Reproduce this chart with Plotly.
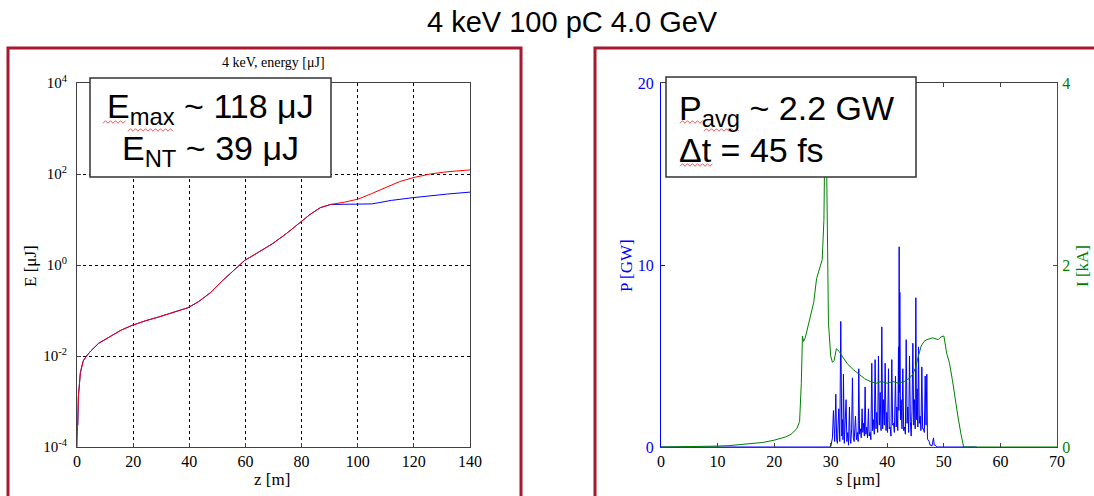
import plotly.graph_objects as go

# ---------------- data ----------------
# Left panel: FEL pulse energy along undulator (log scale)
z_red = [0, 0.24, 0.5, 1.2, 2.2, 3.4, 4.9, 7.7, 12, 15.7, 19.6, 24.2, 29.1, 34, 39.5, 43.2, 47.5,
         51.8, 56.1, 59.7, 64.6, 69.5, 74.4, 79.3, 83, 86.7, 90.3, 95.2, 100.1, 105, 109.9, 114.8,
         119.7, 125.8, 131.9, 140]
E_red = [1.0e-4, 4.0e-4, 1.3e-3, 4.3e-3, 7.8e-3, 1.0e-2, 1.29e-2, 1.9e-2, 2.75e-2, 3.7e-2, 4.7e-2,
         5.9e-2, 7.2e-2, 8.9e-2, 0.115, 0.155, 0.245, 0.45, 0.81, 1.26, 1.9, 2.9, 4.8, 8.5, 12.9,
         18.2, 21.4, 24.0, 28.0, 37.2, 50.1, 67.6, 83.0, 100.0, 112.0, 123.0]

z_blue = [0.3, 0.5, 1.2, 2.2, 3.4, 4.9, 7.7, 12, 15.7, 19.6, 24.2, 29.1, 34, 39.5, 43.2, 47.5,
          51.8, 56.1, 59.7, 64.6, 69.5, 74.4, 79.3, 83, 86.7, 90.3, 95.2, 100.1, 105, 107.5, 112,
          119.7, 125, 132, 140]
E_blue = [3.0e-4, 1.3e-3, 4.3e-3, 7.8e-3, 1.0e-2, 1.29e-2, 1.9e-2, 2.75e-2, 3.7e-2, 4.7e-2,
          5.9e-2, 7.2e-2, 8.9e-2, 0.115, 0.155, 0.245, 0.45, 0.81, 1.26, 1.9, 2.9, 4.8, 8.5, 12.9,
          18.2, 21.4, 21.6, 21.8, 22.0, 23.4, 26.3, 30.2, 33.1, 36.3, 40.0]

# Right panel: power profile P [GW] and current I [kA] vs s [um]
s_P = [0, 30.0, 30.3, 30.48, 30.7, 30.9, 31.05, 31.19, 31.3, 31.43, 31.6, 31.78, 31.95, 32.08,
       32.17, 32.25, 32.4, 32.55, 32.72, 32.85, 33.02, 33.15, 33.31, 33.45, 33.55, 33.7, 33.84,
       34.0, 34.14, 34.38, 34.55, 34.73, 34.85, 34.96, 35.1, 35.26, 35.4, 35.55, 35.68, 35.79,
       35.95, 36.08, 36.22, 36.38, 36.5, 36.67, 36.8, 36.97, 37.1, 37.26, 37.4, 37.56, 37.7,
       37.85, 38.0, 38.15, 38.3, 38.44, 38.6, 38.74, 38.9, 39.03, 39.18, 39.33, 39.48, 39.62,
       39.78, 39.92, 40.05, 40.21, 40.35, 40.51, 40.65, 40.8, 40.95, 41.1, 41.25, 41.45, 41.58,
       41.69, 41.85, 41.98, 42.04, 42.10, 42.16, 42.22, 42.33, 42.45, 42.6, 42.75, 42.9, 43.04,
       43.2, 43.34, 43.5, 43.63, 43.78, 43.93, 44.08, 44.22, 44.38, 44.52, 44.68, 44.81, 44.93,
       45.05, 45.16, 45.28, 45.4, 45.52, 45.66, 45.81, 45.95, 46.11, 46.25, 46.4, 46.55, 46.7,
       46.85, 46.99, 47.1, 47.17, 47.41, 47.55, 47.7, 47.9, 48.17, 48.3, 48.47, 48.76, 55.8]
P_GW = [0, 0, 0.5, 2.0, 0.3, 2.9, 0.4, 0.2, 1.2, 2.1, 0.3, 6.9, 0.6, 1.5,
        0.4, 4.0, 0.2, 1.0, 2.6, 0.3, 0.8, 0.1, 2.2, 0.4, 0.2, 1.0, 3.8,
        0.5, 0.3, 1.7, 0.4, 0.8, 0.3, 4.3, 0.7, 1.0, 0.5, 2.1, 0.8, 1.3,
        0.6, 3.3, 0.7, 1.1, 0.5, 2.1, 0.6, 0.8, 0.4, 4.6, 0.9, 1.5, 0.7,
        4.8, 1.0, 1.9, 0.8, 5.0, 1.2, 3.0, 0.9, 6.6, 1.0, 2.6, 1.2, 4.6,
        0.9, 1.9, 0.8, 4.3, 1.0, 1.1, 0.6, 4.8, 1.2, 1.3, 0.8, 3.9, 1.1,
        2.2, 0.9, 5.5, 2.0, 11.0, 3.0, 8.5, 1.5, 2.6, 1.0, 4.3, 0.9, 1.1,
        0.7, 5.9, 1.3, 2.2, 0.8, 5.0, 1.4, 0.6, 2.0, 5.7, 1.2, 2.6, 1.0,
        8.2, 1.5, 3.2, 1.1, 5.5, 1.3, 1.7, 0.9, 4.4, 1.0, 1.0, 0.8, 3.9,
        1.2, 4.0, 0.5, 0.4, 0.3, 0.1, 0.1, 0.05, 0.5, 0.1, 0.1, 0, 0]

s_I = [0, 5, 7, 10, 12, 15, 18, 20, 22, 23, 24, 24.5, 24.8, 25.0, 25.2, 25.5, 26, 26.5, 27,
       27.5, 28, 28.5, 28.8, 29.0, 29.15, 29.3, 29.6, 30.0, 30.3, 30.6, 31, 31.5, 32, 32.5, 33,
       34, 35, 36, 37, 38, 39, 40, 41, 42, 43, 44, 44.5, 45, 45.5, 46, 46.5, 47, 48, 49, 49.5,
       50, 50.5, 51, 51.5, 52, 52.5, 53, 53.5, 70]
I_kA = [0, 0.002, 0.005, 0.01, 0.015, 0.03, 0.05, 0.075, 0.11, 0.14, 0.2, 0.28, 0.7, 1.22,
        1.16, 1.2, 1.33, 1.45, 1.59, 1.85, 1.95, 2.06, 2.5, 3.6, 3.5, 2.98, 1.37, 1.0, 0.93,
        0.95, 1.08, 1.05, 1.0, 0.96, 0.91, 0.85, 0.80, 0.75, 0.72, 0.70, 0.72, 0.70, 0.72,
        0.70, 0.72, 0.76, 0.80, 0.87, 1.0, 1.11, 1.16, 1.18, 1.20, 1.18, 1.21, 1.22, 1.03,
        0.92, 0.74, 0.52, 0.33, 0.15, 0, 0]

log_tickvals = [1e-4, 1e-2, 1, 1e2, 1e4]
log_ticktext = ["10<sup>-4</sup>", "10<sup>-2</sup>", "10<sup>0</sup>", "10<sup>2</sup>", "10<sup>4</sup>"]
z_ticks = [0, 20, 40, 60, 80, 100, 120, 140]
s_ticks = [0, 10, 20, 30, 40, 50, 60, 70]
P_ticks = [0, 10, 20]
I_ticks = [0, 2, 4]

# ---------------- layout helpers ----------------
W, H = 1094, 496
def px(x):
    return x / W
def py(y):
    return 1 - y / H

SERIF = "Liberation Serif, Times New Roman, serif"
SANS = "Liberation Sans, Arial, sans-serif"
BLUE = "#0000FF"
GREEN = "#008000"
RED = "#FF0000"
BORDER = "#A6192E"
AX = "#404040"

fig = go.Figure()
fig.add_trace(go.Scatter(x=z_blue, y=E_blue, mode="lines", line=dict(color=BLUE, width=1),
                         xaxis="x", yaxis="y", showlegend=False))
fig.add_trace(go.Scatter(x=z_red, y=E_red, mode="lines", line=dict(color=RED, width=1),
                         xaxis="x", yaxis="y", showlegend=False))
fig.add_trace(go.Scatter(x=s_I, y=I_kA, mode="lines", line=dict(color=GREEN, width=1),
                         xaxis="x2", yaxis="y3", showlegend=False))
fig.add_trace(go.Scatter(x=s_P, y=P_GW, mode="lines", line=dict(color=BLUE, width=1),
                         xaxis="x2", yaxis="y2", showlegend=False))

ydom = [py(447), py(83)]
tickfont = dict(family=SERIF, size=16, color="black")

fig.update_layout(
    width=W, height=H, autosize=False,
    margin=dict(l=0, r=0, t=0, b=0, pad=0, autoexpand=False),
    paper_bgcolor="white", plot_bgcolor="white",
    showlegend=False,
    xaxis=dict(domain=[px(77), px(470)], range=[0, 140], tickvals=z_ticks, automargin=False,
               showgrid=True, gridcolor="black", griddash="dot", gridwidth=1,
               showline=True, linecolor=AX, linewidth=1, mirror=True,
               ticks="inside", ticklen=4, tickcolor=AX, tickfont=tickfont,
               zeroline=False, anchor="y"),
    yaxis=dict(domain=ydom, type="log", range=[-4, 4], tickvals=log_tickvals, automargin=False,
               ticktext=log_ticktext, showgrid=True, gridcolor="black", griddash="dot",
               gridwidth=1, showline=True, linecolor=AX, linewidth=1, mirror=True,
               ticks="inside", ticklen=4, tickcolor=AX, tickfont=dict(family=SERIF, size=15, color="black"),
               ticklabelstandoff=6, zeroline=False, anchor="x"),
    xaxis2=dict(domain=[px(661), px(1057)], range=[0, 70], tickvals=s_ticks, automargin=False,
                showgrid=False, showline=True, linecolor=AX, linewidth=1, mirror="ticks",
                ticks="inside", ticklen=4, tickcolor=AX, tickfont=tickfont,
                zeroline=False, anchor="y2"),
    yaxis2=dict(domain=ydom, range=[0, 20], tickvals=P_ticks, showgrid=False, automargin=False,
                showline=True, linecolor=BLUE, linewidth=1, ticks="inside", ticklen=4,
                tickcolor=BLUE, tickfont=dict(family=SERIF, size=16, color=BLUE),
                ticklabelstandoff=3, zeroline=False, anchor="x2"),
    yaxis3=dict(domain=ydom, range=[0, 4], tickvals=I_ticks, showgrid=False, automargin=False,
                overlaying="y2", side="right", anchor="x2",
                showline=True, linecolor=GREEN, linewidth=1, ticks="inside", ticklen=4,
                tickcolor=GREEN, tickfont=dict(family=SERIF, size=16, color=GREEN),
                ticklabelstandoff=1, zeroline=False),
)


def squiggle(x0, x1, y, amp=1.3, step=2.5):
    pts = []
    x = x0
    k = 0
    while x <= x1:
        yy = y + (amp if k % 2 == 0 else -amp)
        pts.append((px(x), py(yy)))
        x += step
        k += 1
    d = "M " + " L ".join(f"{a:.5f},{b:.5f}" for a, b in pts)
    return dict(type="path", xref="paper", yref="paper", path=d,
                line=dict(color="#E03030", width=0.8), layer="above")


shapes = [
    # red panel frames
    dict(type="rect", xref="paper", yref="paper", x0=px(8), x1=px(521), y0=py(520), y1=py(48),
         line=dict(color=BORDER, width=3), fillcolor="rgba(0,0,0,0)", layer="above"),
    dict(type="rect", xref="paper", yref="paper", x0=px(595), x1=px(1120), y0=py(520), y1=py(48),
         line=dict(color=BORDER, width=3), fillcolor="rgba(0,0,0,0)", layer="above"),
    # text boxes
    dict(type="rect", xref="paper", yref="paper", x0=px(90), x1=px(331), y0=py(177), y1=py(78),
         line=dict(color="#333333", width=1.5), fillcolor="white", layer="above"),
    dict(type="rect", xref="paper", yref="paper", x0=px(666), x1=px(916), y0=py(177), y1=py(77),
         line=dict(color="#333333", width=1.5), fillcolor="white", layer="above"),
    # spell-check underlines
    squiggle(103, 126, 122),
    squiggle(128, 173, 130),
    squiggle(680, 703, 122),
    squiggle(704, 740, 130),
    squiggle(680, 713, 165),
]
fig.update_layout(shapes=shapes)

ann = []
def add(text, x, y, size, family, color="black", xanchor="center", yanchor="middle", angle=0):
    ann.append(dict(text=text, x=px(x), y=py(y), xref="paper", yref="paper", showarrow=False,
                    xanchor=xanchor, yanchor=yanchor, textangle=angle,
                    font=dict(size=size, family=family, color=color)))

add("4 keV 100 pC 4.0 GeV", 572, 22, 29, SANS)
add("4 keV, energy [μJ]", 273, 62, 14, SERIF)
add("z [m]", 272, 479, 17, SERIF)
add("E [μJ]", 30, 266, 17, SERIF, angle=-90)
add("s [μm]", 858, 479, 17, SERIF)
add("P [GW]", 626, 266, 17, SERIF, color=BLUE, angle=-90)
add("I [kA]", 1082, 266, 17, SERIF, color=GREEN, angle=-90)
add("E<sub>max</sub> ~ 118 μJ", 210, 108, 34, SANS)
add("E<sub>NT</sub> ~ 39 μJ", 210, 150, 34, SANS)
add("P<sub>avg</sub> ~ 2.2 GW", 677, 110, 34, SANS, xanchor="left")
add("Δt = 45 fs", 677, 150, 34, SANS, xanchor="left")
fig.update_layout(annotations=ann)

fig.write_html("out.html")
